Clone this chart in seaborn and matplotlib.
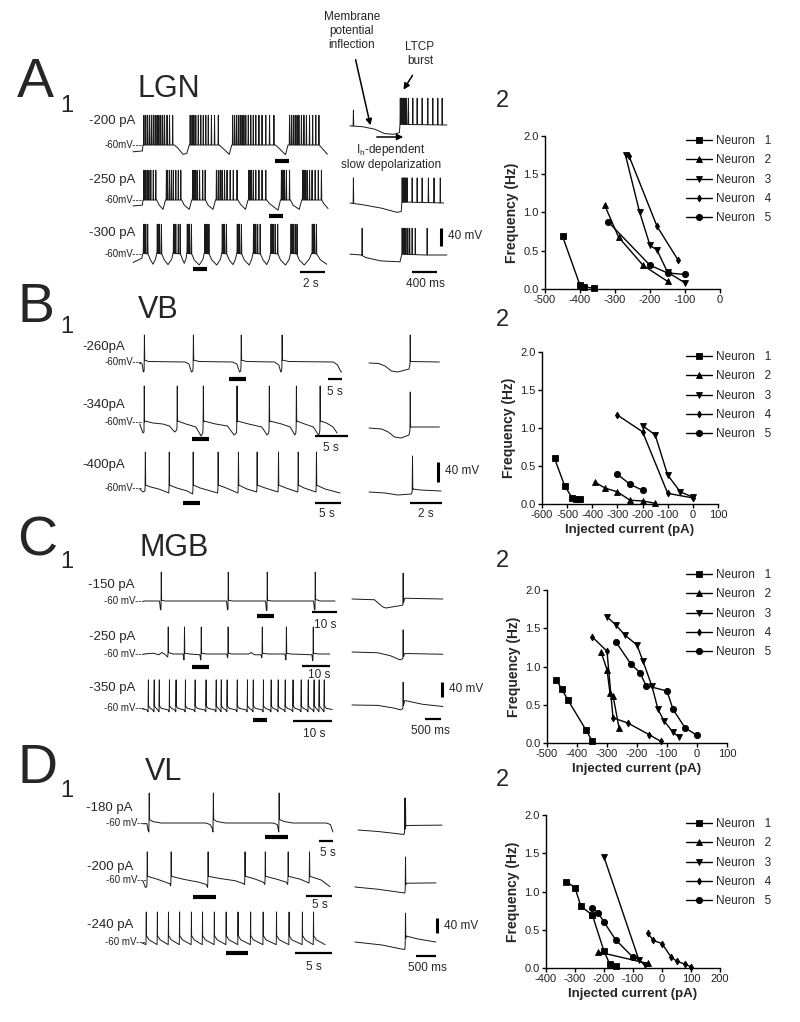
import numpy as np
import pandas as pd
import seaborn as sns
import matplotlib.pyplot as plt
from matplotlib.lines import Line2D
from matplotlib.patches import FancyArrowPatch
from matplotlib.ticker import FormatStrFormatter

# ---------------- F-I curves: injected current (pA) -> burst frequency (Hz)
A2_N1_I = [-450, -400, -390, -360]
A2_N1_F = [0.69, 0.05, 0.03, 0.01]
A2_N2_I = [-330, -290, -220, -150]
A2_N2_F = [1.10, 0.68, 0.31, 0.10]
A2_N3_I = [-270, -230, -200, -180, -150, -100]
A2_N3_F = [1.75, 1.01, 0.57, 0.51, 0.22, 0.08]
A2_N4_I = [-260, -180, -120]
A2_N4_F = [1.74, 0.82, 0.38]
A2_N5_I = [-320, -200, -150, -100]
A2_N5_F = [0.88, 0.31, 0.21, 0.19]

B2_N1_I = [-550, -510, -480, -465, -450]
B2_N1_F = [0.60, 0.24, 0.08, 0.07, 0.06]
B2_N2_I = [-390, -350, -300, -250, -200, -150]
B2_N2_F = [0.29, 0.21, 0.16, 0.05, 0.04, 0.01]
B2_N3_I = [-200, -150, -100, -50, 0]
B2_N3_F = [1.03, 0.91, 0.38, 0.16, 0.09]
B2_N4_I = [-300, -200, -100, 0]
B2_N4_F = [1.17, 0.95, 0.14, 0.08]
B2_N5_I = [-300, -250, -200]
B2_N5_F = [0.39, 0.26, 0.18]

C2_N1_I = [-470, -450, -430, -370, -350]
C2_N1_F = [0.83, 0.70, 0.56, 0.17, 0.03]
C2_N2_I = [-320, -300, -290, -280, -260]
C2_N2_F = [1.19, 0.96, 0.65, 0.62, 0.20]
C2_N3_I = [-300, -270, -240, -200, -180, -150, -130, -110, -80, -60]
C2_N3_F = [1.65, 1.54, 1.41, 1.28, 1.07, 0.74, 0.44, 0.29, 0.14, 0.08]
C2_N4_I = [-350, -300, -280, -230, -160, -120]
C2_N4_F = [1.39, 1.20, 0.33, 0.26, 0.11, 0.02]
C2_N5_I = [-270, -220, -190, -170, -100, -80, -40, 0]
C2_N5_F = [1.32, 1.03, 0.92, 0.75, 0.68, 0.44, 0.20, 0.10]

D2_N1_I = [-330, -300, -280, -240, -200, -180, -160]
D2_N1_F = [1.13, 1.05, 0.81, 0.69, 0.22, 0.05, 0.02]
D2_N2_I = [-220, -50]
D2_N2_F = [0.21, 0.06]
D2_N3_I = [-200, -80, -60]
D2_N3_F = [1.45, 0.11, 0.04]
D2_N4_I = [-50, -30, 0, 30, 50, 80, 100]
D2_N4_F = [0.46, 0.36, 0.32, 0.15, 0.09, 0.05, 0.015]
D2_N5_I = [-240, -220, -200, -160, -100]
D2_N5_F = [0.78, 0.72, 0.60, 0.37, 0.14]

NEURONS = ["Neuron   1", "Neuron   2", "Neuron   3", "Neuron   4", "Neuron   5"]
MARKERS = ["s", "^", "v", "d", "o"]
MSIZE = [4, 4.5, 4.5, 3.5, 4.5]

# ---------------- current-clamp traces: (time s, membrane potential mV) knots + spike times
A1_R1_BASE = [(-0.8, -76), (-0.05, -74), (0.0, -60), (2.5, -60), (2.75, -66), (3.2, -82), (3.5, -80),
              (3.7, -60), (6.1, -60), (6.4, -68), (6.9, -82), (7.1, -60), (10.6, -60), (10.9, -68),
              (11.4, -83), (11.6, -60), (14.1, -60), (14.4, -70), (14.75, -82)]
A1_R1_SPK = [0.05, 0.2, 0.35, 0.5, 0.65, 0.8, 0.95, 1.1, 1.25, 1.4, 1.55, 1.7, 1.9, 2.1, 2.35,
             3.75, 3.9, 4.05, 4.2, 4.4, 4.6, 4.8, 5.0, 5.2, 5.45, 5.7, 6.0,
             7.15, 7.3, 7.45, 7.6, 7.75, 7.9, 8.05, 8.2, 8.4, 8.6, 8.8, 9.0, 9.25, 9.5, 9.8, 10.1, 10.45,
             11.7, 11.85, 12.0, 12.15, 12.3, 12.45, 12.65, 12.85, 13.05, 13.3, 13.55, 13.8, 14.05]
A1_R1_PEAK = 10
A1_R2_BASE = [(-0.8, -74), (-0.05, -72), (0, -60), (1.1, -60), (1.3, -72), (1.6, -82), (1.8, -60),
              (3.1, -60), (3.3, -72), (3.7, -82), (3.9, -60), (5.0, -60), (5.2, -72), (5.6, -82),
              (5.8, -60), (7.6, -60), (7.8, -70), (8.2, -82), (8.4, -60), (9.9, -60), (10.1, -68),
              (10.8, -84), (11.0, -60), (11.8, -60), (12.0, -72), (12.5, -82), (12.7, -60),
              (14.3, -60), (14.5, -70), (14.8, -80)]
A1_R2_SPK = [0.05, 0.15, 0.3, 0.45, 0.6, 0.8, 1.0, 1.85, 1.95, 2.1, 2.25, 2.4, 2.6, 2.8, 3.0,
             3.95, 4.05, 4.15, 4.3, 4.5, 4.75, 4.95, 5.85, 6.0, 6.15, 6.3, 6.5, 6.7, 6.95, 7.2, 7.5,
             8.45, 8.55, 8.65, 8.8, 9.0, 9.25, 9.5, 9.8, 11.05, 11.12, 11.2, 11.3, 11.45, 11.7,
             12.75, 12.85, 12.95, 13.1, 13.3, 13.5, 13.75, 14.0, 14.25]
A1_R2_PEAK = 10
A1_R3_BASE = [(-0.8, -80), (-0.1, -70), (0, -58), (0.4, -60), (0.6, -74), (0.8, -84), (1.0, -72),
              (1.1, -58), (1.5, -60), (1.7, -74), (2.0, -85), (2.3, -72), (2.4, -58), (3.0, -60),
              (3.15, -72), (3.3, -82), (3.45, -70), (3.5, -58), (3.9, -60), (4.1, -74), (4.5, -86),
              (4.8, -72), (4.9, -58), (5.3, -60), (5.5, -74), (5.9, -86), (6.2, -72), (6.3, -58),
              (6.7, -60), (6.9, -74), (7.2, -85), (7.4, -72), (7.5, -58), (7.9, -60), (8.1, -74),
              (8.5, -86), (8.7, -72), (8.8, -58), (9.4, -60), (9.6, -74), (9.9, -85), (10.1, -72),
              (10.2, -58), (10.8, -60), (11.0, -74), (11.4, -86), (11.7, -72), (11.8, -58),
              (12.3, -60), (12.5, -74), (12.9, -86), (13.3, -72), (13.5, -58), (13.9, -60),
              (14.2, -74), (14.7, -84)]
A1_R3_SPK = [0.02, 0.1, 0.2, 0.35, 1.12, 1.2, 1.3, 1.45, 2.42, 2.5, 2.6, 2.8, 2.95, 3.52, 3.6, 3.7, 3.85,
             4.92, 5.0, 5.1, 5.25, 6.32, 6.4, 6.5, 6.65, 7.52, 7.6, 7.7, 7.85, 8.82, 8.9, 9.0, 9.15, 9.35,
             10.22, 10.3, 10.4, 10.55, 10.75, 11.82, 11.9, 12.0, 12.15, 12.3, 13.52, 13.6, 13.7, 13.85]
A1_R3_PEAK = 10

A1_I1_BASE = [(0, -62), (0.2, -64), (0.4, -70), (0.55, -80), (0.7, -82), (0.79, -78), (0.8, -58),
              (1.0, -59), (1.55, -60)]
A1_I1_SPK0 = [0.05]
A1_I1_PEAK0 = -25
A1_I1_SPK = [0.8, 0.815, 0.83, 0.845, 0.86, 0.88, 0.9, 0.93, 1.0, 1.07, 1.15, 1.24, 1.32, 1.4, 1.47]
A1_I1_PEAK = 3
A1_I2_BASE = [(0, -60), (0.2, -64), (0.5, -72), (0.75, -82), (0.82, -80), (0.83, -58), (0.95, -58),
              (1.5, -60)]
A1_I2_SPK0 = [0.05]
A1_I2_PEAK0 = -1
A1_I2_SPK = [0.83, 0.845, 0.86, 0.875, 0.89, 0.91, 0.99, 1.07, 1.15, 1.25, 1.34, 1.44]
A1_I2_PEAK = -1
A1_I3_BASE = [(0, -58), (0.18, -60), (0.25, -66), (0.5, -74), (0.8, -76), (0.83, -58), (1.2, -60),
              (1.55, -60)]
A1_I3_SPK = [0.19, 0.83, 0.85, 0.87, 0.89, 0.92, 0.95, 0.99, 1.04, 1.23]
A1_I3_PEAK = 3

B1_R1_BASE = [(-1.4, -62), (-0.3, -64), (0.1, -80), (0.4, -78), (0.5, -56), (2, -59), (15, -60),
              (16.4, -64), (17.3, -80), (17.8, -78), (18, -56), (20, -59), (32, -60), (33.5, -64),
              (34.5, -80), (34.9, -78), (35.1, -56), (37, -59), (47, -60), (48.5, -66), (49.2, -80),
              (49.5, -78), (49.7, -56), (52, -59), (68, -60), (69.5, -66), (70.5, -78), (71, -80)]
B1_R1_SPK = [0.4, 17.9, 35.0, 49.6]
B1_R1_PEAK = -6
B1_R2_BASE = [(-0.5, -64), (0, -82), (0.15, -80), (0.25, -58), (1.5, -62), (3, -64), (4, -68), (4.8, -80),
              (5.1, -76), (5.25, -58), (6.5, -64), (8, -70), (8.8, -88), (9.05, -82), (9.2, -58), (11, -64),
              (12.8, -68), (13.8, -86), (14.15, -82), (14.3, -58), (16, -64), (18, -70), (18.8, -86),
              (19.05, -82), (19.2, -58), (21, -64), (22.3, -70), (23.0, -86), (23.15, -82), (23.3, -58),
              (24.5, -64), (25.8, -70), (26.6, -86), (26.75, -82), (26.9, -58), (27.8, -62), (28.8, -70),
              (29.4, -82)]
B1_R2_SPK = [0.15, 5.15, 9.1, 14.2, 19.1, 23.2, 26.8]
B1_R2_PEAK = 12
B1_R3_BASE = [(-0.6, -62), (0, -68), (0.35, -66), (0.45, -54), (1.5, -58), (3, -62), (4.5, -68),
              (4.95, -70), (5.05, -54), (6.5, -60), (8.5, -66), (9.55, -72), (9.65, -54), (11, -60),
              (13, -66), (14.35, -70), (14.45, -54), (16, -60), (17.8, -68), (18.25, -70), (18.35, -54),
              (20, -62), (21.85, -68), (21.95, -54), (23.5, -60), (25.95, -68), (26.05, -54), (27.5, -60),
              (29.75, -68), (29.85, -54), (31, -60), (33.25, -68), (33.35, -54), (35, -62), (37.9, -70)]
B1_R3_SPK = [0.4, 5.0, 9.6, 14.4, 18.3, 21.9, 26.0, 29.8, 33.3]
B1_R3_PEAK = 12

B1_I1_BASE = [(0, -60), (0.6, -61), (1.0, -66), (1.4, -76), (1.8, -78), (2.5, -72), (2.6, -57), (4.4, -58)]
B1_I1_SPK = [2.56]
B1_I1_PEAK = -4
B1_I2_BASE = [(0, -60), (0.8, -62), (1.2, -68), (1.6, -78), (2.0, -80), (2.5, -74), (2.6, -58), (4.4, -58)]
B1_I2_SPK = [2.56]
B1_I2_PEAK = 12
B1_I3_BASE = [(0, -60), (1.0, -62), (1.8, -66), (2.65, -64), (2.75, -54), (3.2, -56), (4.5, -58)]
B1_I3_SPK = [2.7]
B1_I3_PEAK = 12

C1_R1_BASE = [(-0.5, -60), (5.8, -60), (6.2, -84), (6.4, -82), (6.6, -58), (8, -60), (32.6, -60),
              (33.0, -84), (33.2, -82), (33.4, -58), (35, -60), (48.2, -60), (48.6, -86), (48.8, -84),
              (49.0, -58), (50.5, -60), (67.4, -60), (67.8, -84), (68, -82), (68.2, -56), (70, -60),
              (76, -60)]
C1_R1_SPK = [6.4, 33.2, 48.8, 68.0]
C1_R1_PEAK = 17
C1_R2_BASE = [(-0.5, -60), (3, -58), (5, -62), (6, -56), (7.0, -60), (8.1, -68), (8.3, -56), (10, -60),
              (13.6, -60), (13.9, -76), (14.1, -58), (16, -60), (19.6, -62), (19.9, -76), (20.1, -58),
              (22, -60), (29.2, -60), (29.5, -70), (29.7, -58), (31, -60), (37, -60), (38, -56),
              (39, -62), (41.4, -62), (41.7, -70), (41.9, -58), (44, -60), (50, -60), (50.3, -76),
              (50.5, -58), (52, -60), (59.6, -62), (59.9, -78), (60.1, -58), (62, -60), (66, -60)]
C1_R2_SPK = [8.2, 14.0, 20.0, 29.6, 41.8, 50.4, 60.0]
C1_R2_PEAK = 12
C1_R3_BASE = [(-0.8, -62), (0, -64), (48, -64)]
C1_R3_SPK = [0.8, 2.3, 3.6, 6.2, 7.9, 10.3, 12.8, 15.6, 18.2, 19.5, 21.0, 23.6, 26.2, 27.7, 30.3,
             32.3, 34.1, 35.9, 37.9, 40.0, 41.8, 43.3, 44.6, 45.9]
C1_R3_PEAK = 15
C1_R3_SHAPE = [(-0.3, -1), (-0.05, -6), (0.08, 10), (0.6, 3)]

C1_I1_BASE = [(0, -60), (0.7, -62), (0.96, -81), (1.06, -84), (1.48, -78), (1.59, -76), (1.65, -58), (2.84, -60)]
C1_I1_SPK = [1.59]
C1_I1_PEAK = 9
C1_I2_BASE = [(0, -60), (0.8, -62), (1.2, -70), (1.5, -81), (1.58, -78), (1.65, -64), (2.84, -66)]
C1_I2_SPK = [1.59]
C1_I2_PEAK = -1
C1_I3_BASE = [(0, -60), (0.8, -61), (1.3, -68), (1.52, -73), (1.58, -70), (1.65, -48), (2.2, -58), (2.84, -64)]
C1_I3_SPK = [1.59]
C1_I3_PEAK = 1

D1_R1_BASE = [(-1.5, -62), (0, -62), (0.4, -80), (0.65, -84), (0.75, -50), (2, -56), (5, -60), (21, -60),
              (22.5, -64), (23.3, -74), (23.55, -84), (23.65, -50), (25, -56), (28, -60), (45, -60),
              (46.5, -64), (46.8, -74), (47.05, -84), (47.15, -50), (49, -56), (52, -60), (64, -60),
              (65.5, -64), (66.4, -84)]
D1_R1_SPK = [0.7, 23.6, 47.1]
D1_R1_PEAK = 20
D1_R2_BASE = [(-0.8, -62), (-0.3, -80), (-0.05, -78), (0.05, -50), (2, -58), (4.4, -70), (4.55, -76),
              (4.65, -50), (7, -58), (10, -66), (11.4, -72), (11.65, -80), (11.75, -50), (14, -56),
              (17, -62), (18.6, -70), (18.75, -72), (18.85, -50), (20.5, -56), (22.4, -66), (22.65, -72),
              (22.75, -50), (25, -58), (26.8, -66), (27.05, -72), (27.15, -50), (29.5, -58), (31.15, -68),
              (31.25, -50), (33.5, -60), (35.2, -78)]
D1_R2_SPK = [0.0, 4.6, 11.7, 18.8, 22.7, 27.1, 31.2]
D1_R2_PEAK = 15
D1_R3_BASE = [(-0.6, -62), (0, -67), (24.2, -67)]
D1_R3_SPK = [0.0, 1.5, 3.0, 4.5, 6.1, 7.6, 9.2, 10.8, 12.4, 14.1, 15.8, 17.6, 19.3, 21.1, 22.6]
D1_R3_PEAK = 20
D1_R3_SHAPE = [(0.06, 24), (0.4, 13)]

D1_I1_BASE = [(0, -60), (0.5, -64), (1.0, -70), (1.15, -72), (1.2, -48), (2.1, -47)]
D1_I1_SPK = [1.165, 1.18]
D1_I1_PEAK = 25
D1_I2_BASE = [(-0.08, -60), (0.5, -66), (1.1, -75), (1.17, -76), (1.2, -50), (1.95, -49)]
D1_I2_SPK = [1.18]
D1_I2_PEAK = 20
D1_I3_BASE = [(-0.08, -60), (0.6, -68), (1.1, -79), (1.17, -80), (1.2, -44), (1.5, -52), (1.95, -60)]
D1_I3_SPK = [1.18]
D1_I3_PEAK = 17

# ---------------- figure
W, H = 800, 1022
sns.set_theme(style="ticks")
plt.rcParams["font.family"] = ["Liberation Sans", "DejaVu Sans"]
plt.rcParams["axes.unicode_minus"] = False
plt.rcParams["mathtext.fontset"] = "custom"
plt.rcParams["mathtext.rm"] = "Liberation Sans"

fig = plt.figure(figsize=(W / 100, H / 100), dpi=100)
fig.patch.set_facecolor("white")


def fx(x):
    return x / W


def fy(y):
    return 1 - y / H


def px_axes(x0, y0, x1, y1):
    return fig.add_axes([fx(x0), fy(y1), (x1 - x0) / W, (y1 - y0) / H])


def ftext(x, y, s, **kw):
    fig.text(fx(x), fy(y), s, **kw)


def fline(xs, ys, lw):
    fig.add_artist(Line2D([fx(v) for v in xs], [fy(v) for v in ys], color="black",
                          lw=lw, solid_capstyle="butt"))


def build_trace(base, groups, eps, shape=()):
    bt = np.array([p[0] for p in base], float)
    bv = np.array([p[1] for p in base], float)
    pre = [p for p in shape if p[0] < 0]
    post = [p for p in shape if p[0] > 0]
    pts, wins = [], []
    for times, peak in groups:
        for ts in times:
            lo = ts + (pre[0][0] if pre else 0)
            hi = ts + (post[-1][0] if post else 2 * eps)
            wins.append((lo, hi))
            for d, dv in pre:
                pts.append((ts + d, np.interp(ts + d, bt, bv) + dv))
            pts.append((ts, np.interp(ts, bt, bv) + (pre[-1][1] if pre else 0)))
            pts.append((ts + eps, peak))
            if post:
                for d, dv in post:
                    pts.append((ts + d, np.interp(ts + d, bt, bv) + dv))
            else:
                pts.append((ts + 2 * eps, np.interp(ts + 2 * eps, bt, bv)))
    for t, v in base:
        if not any(lo - 1e-9 <= t <= hi + 1e-9 for lo, hi in wins):
            pts.append((t, v))
    pts.sort(key=lambda p: p[0])
    return [p[0] for p in pts], [p[1] for p in pts]


def trace_axes(x0, x1, origin, pxs, base_px, s):
    ax = px_axes(x0, base_px - 90 * s, x1, base_px + 40 * s)
    ax.set_xlim((x0 - origin) / pxs, (x1 - origin) / pxs)
    ax.set_ylim(-100, 30)
    ax.axis("off")
    return ax


# base, spike groups, spike shape, origin px, px per s, baseline px, px per mV, x-range
TRACES = [
    (A1_R1_BASE, [(A1_R1_SPK, A1_R1_PEAK)], (), 143, 12.5, 145, 0.425, 125, 335),
    (A1_R2_BASE, [(A1_R2_SPK, A1_R2_PEAK)], (), 143, 12.5, 200, 0.425, 125, 335),
    (A1_R3_BASE, [(A1_R3_SPK, A1_R3_PEAK)], (), 143, 12.5, 254, 0.425, 125, 335),
    (A1_I1_BASE, [(A1_I1_SPK0, A1_I1_PEAK0), (A1_I1_SPK, A1_I1_PEAK)], (), 350, 62.5, 125, 0.425, 345, 450),
    (A1_I2_BASE, [(A1_I2_SPK0, A1_I2_PEAK0), (A1_I2_SPK, A1_I2_PEAK)], (), 350, 62.5, 203, 0.425, 345, 450),
    (A1_I3_BASE, [(A1_I3_SPK, A1_I3_PEAK)], (), 350, 62.5, 255, 0.425, 345, 450),
    (B1_R1_BASE, [(B1_R1_SPK, B1_R1_PEAK)], (), 143, 2.8, 362, 0.5, 135, 350),
    (B1_R2_BASE, [(B1_R2_SPK, B1_R2_PEAK)], (), 143, 6.6, 422, 0.5, 135, 350),
    (B1_R3_BASE, [(B1_R3_SPK, B1_R3_PEAK)], (), 143, 5.2, 488, 0.5, 135, 350),
    (B1_I1_BASE, [(B1_I1_SPK, B1_I1_PEAK)], (), 369, 16, 363, 0.5, 365, 445),
    (B1_I2_BASE, [(B1_I2_SPK, B1_I2_PEAK)], (), 369, 16, 428, 0.5, 365, 445),
    (B1_I3_BASE, [(B1_I3_SPK, B1_I3_PEAK)], (), 369, 16, 492, 0.5, 365, 445),
    (C1_R1_BASE, [(C1_R1_SPK, C1_R1_PEAK)], (), 145, 2.5, 601, 0.375, 140, 340),
    (C1_R2_BASE, [(C1_R2_SPK, C1_R2_PEAK)], (), 145, 2.8, 654, 0.375, 140, 340),
    (C1_R3_BASE, [(C1_R3_SPK, C1_R3_PEAK)], C1_R3_SHAPE, 145, 3.9, 708, 0.375, 140, 340),
    (C1_I1_BASE, [(C1_I1_SPK, C1_I1_PEAK)], (), 352, 32, 599, 0.375, 350, 445),
    (C1_I2_BASE, [(C1_I2_SPK, C1_I2_PEAK)], (), 352, 32, 652, 0.375, 350, 445),
    (C1_I3_BASE, [(C1_I3_SPK, C1_I3_PEAK)], (), 352, 32, 705, 0.375, 350, 445),
    (D1_R1_BASE, [(D1_R1_SPK, D1_R1_PEAK)], (), 147, 2.8, 823, 0.375, 140, 340),
    (D1_R2_BASE, [(D1_R2_SPK, D1_R2_PEAK)], (), 147, 5.2, 880, 0.375, 140, 340),
    (D1_R3_BASE, [(D1_R3_SPK, D1_R3_PEAK)], D1_R3_SHAPE, 146, 7.4, 942, 0.375, 140, 340),
    (D1_I1_BASE, [(D1_I1_SPK, D1_I1_PEAK)], (), 358, 40, 830, 0.375, 350, 445),
    (D1_I2_BASE, [(D1_I2_SPK, D1_I2_PEAK)], (), 358, 40, 887, 0.375, 350, 445),
    (D1_I3_BASE, [(D1_I3_SPK, D1_I3_PEAK)], (), 358, 40, 942, 0.375, 350, 445),
]

for base, groups, shape, origin, pxs, base_px, s, x0, x1 in TRACES:
    ax = trace_axes(x0, x1, origin, pxs, base_px, s)
    t, v = build_trace(base, groups, 0.3 / pxs, shape)
    ax.plot(t, v, color="#1a1a1a", lw=0.7, clip_on=False)

# panel letters, region titles
for letter, y, ysub in [("A", 97, 112), ("B", 322, 333), ("C", 555, 568), ("D", 783, 797)]:
    ftext(17, y, letter, fontsize=40, va="baseline", ha="left")
    ftext(60, ysub, "1", fontsize=17, va="baseline", ha="left")
for title, x, y in [("LGN", 138, 97), ("VB", 138, 318), ("MGB", 140, 556), ("VL", 145, 780)]:
    ftext(x, y, title, fontsize=22, va="baseline", ha="left")

# current step labels and -60 mV markers
STEP_LABELS = [("-200 pA", 135, 121), ("-250 pA", 135, 180), ("-300 pA", 135, 233),
               ("-260pA", 125, 347), ("-340pA", 125, 405), ("-400pA", 125, 465),
               ("-150 pA", 135, 585), ("-250 pA", 135, 637), ("-350 pA", 135, 688),
               ("-180 pA", 133, 808), ("-200 pA", 133, 867), ("-240 pA", 133, 925)]
for s, x, y in STEP_LABELS:
    ftext(x, y, s, fontsize=9.5, ha="right", va="center")
VM_LABELS = [("-60mV---", 143, 145), ("-60mV---", 143, 200), ("-60mV---", 143, 254),
             ("-60mV---", 143, 362), ("-60mV---", 143, 422), ("-60mV---", 143, 488),
             ("-60 mV---", 145, 601), ("-60 mV---", 145, 654), ("-60 mV---", 145, 708),
             ("-60 mV---", 147, 823), ("-60 mV---", 147, 880), ("-60 mV---", 146, 942)]
for s, x, y in VM_LABELS:
    ftext(x, y, s, fontsize=7, ha="right", va="center", color="#222222")

# window markers (thick) and scale bars
for x0, x1, y in [(275, 289, 161), (269, 283, 216), (193, 207, 269),
                  (229, 246, 379), (192, 209, 439), (183, 200, 503),
                  (257, 274, 616), (192, 209, 667), (253, 267, 720),
                  (265, 288, 837), (193, 216, 897), (226, 248, 953)]:
    fline([x0, x1], [y, y], 3.0)
SCALE_BARS = [(300, 325, 272, "2 s", 311, 284), (412, 437, 272, "400 ms", 425, 284),
              (328, 342, 379, "5 s", 335, 392), (315, 348, 436, "5 s", 331, 448),
              (315, 341, 503, "5 s", 327, 514), (410, 442, 503, "2 s", 426, 514),
              (312, 337, 612, "10 s", 325, 625), (302, 330, 666, "10 s", 319, 675),
              (293, 332, 721, "10 s", 314, 734), (425, 441, 719, "500 ms", 430, 731),
              (319, 333, 841, "5 s", 328, 853), (306, 332, 896, "5 s", 320, 905),
              (295, 332, 953, "5 s", 314, 967), (416, 436, 956, "500 ms", 427, 968)]
for x0, x1, y, s, tx, ty in SCALE_BARS:
    fline([x0, x1], [y, y], 1.6)
    ftext(tx, ty, s, fontsize=8.5, ha="center", va="center")
for x, y0, y1, ty in [(441, 228, 246, 236), (438, 462, 482, 471), (442, 682, 697, 689), (437, 918, 933, 926)]:
    fline([x, x], [y0, y1], 2.2)
    ftext(x + 7, ty, "40 mV", fontsize=8.5, ha="left", va="center")

# LGN annotations
ftext(352, 11, "Membrane\npotential\ninflection", fontsize=8.5, ha="center", va="top", linespacing=1.2)
ftext(420, 41, "LTCP\nburst", fontsize=8.5, ha="center", va="top", linespacing=1.2)
ftext(391, 150, "I$_\\mathregular{h}$-dependent", fontsize=8.5, ha="center", va="center")
ftext(391, 165, "slow depolarization", fontsize=8.5, ha="center", va="center")
for (xa, ya), (xb, yb) in [((355, 57), (371, 128)), ((414, 73), (402, 92)), ((374, 137), (406, 137))]:
    fig.add_artist(FancyArrowPatch((fx(xa), fy(ya)), (fx(xb), fy(yb)), transform=fig.transFigure,
                                   arrowstyle="-|>", mutation_scale=9, lw=1.1, color="black"))

# F-I plots
FI_PANELS = [
    ([(A2_N1_I, A2_N1_F), (A2_N2_I, A2_N2_F), (A2_N3_I, A2_N3_F), (A2_N4_I, A2_N4_F), (A2_N5_I, A2_N5_F)],
     (-500, 0), (545, 136, 720, 289), False, 135, 107),
    ([(B2_N1_I, B2_N1_F), (B2_N2_I, B2_N2_F), (B2_N3_I, B2_N3_F), (B2_N4_I, B2_N4_F), (B2_N5_I, B2_N5_F)],
     (-600, 100), (542, 352, 718, 504), True, 351, 326),
    ([(C2_N1_I, C2_N1_F), (C2_N2_I, C2_N2_F), (C2_N3_I, C2_N3_F), (C2_N4_I, C2_N4_F), (C2_N5_I, C2_N5_F)],
     (-500, 100), (547, 590, 727, 743), True, 569, 567),
    ([(D2_N1_I, D2_N1_F), (D2_N2_I, D2_N2_F), (D2_N3_I, D2_N3_F), (D2_N4_I, D2_N4_F), (D2_N5_I, D2_N5_F)],
     (-400, 200), (546, 815, 720, 968), True, 818, 786),
]

for series, (lo, hi), box, has_xlabel, leg_top, two_y in FI_PANELS:
    ax = px_axes(*box)
    for (xs, ys), lab, mk, ms in zip(series, NEURONS, MARKERS, MSIZE):
        sns.lineplot(x=xs, y=ys, ax=ax, color="black", lw=1.0, marker=mk, markersize=ms,
                     markeredgecolor="black", markeredgewidth=0.6, label=lab,
                     sort=False, estimator=None, clip_on=False)
    ax.set_xlim(lo, hi)
    ax.set_xticks(range(lo, hi + 1, 100))
    ax.set_ylim(0, 2.0)
    ax.set_yticks([0, 0.5, 1.0, 1.5, 2.0])
    ax.yaxis.set_major_formatter(FormatStrFormatter("%.1f"))
    sns.despine(ax=ax)
    for sp in ("left", "bottom"):
        ax.spines[sp].set_linewidth(1.0)
        ax.spines[sp].set_color("black")
    ax.tick_params(length=3, width=1, labelsize=8, pad=1.5, colors="black", labelcolor="#222222")
    ax.set_ylabel("Frequency (Hz)", fontsize=10, fontweight="bold", labelpad=3)
    if has_xlabel:
        ax.set_xlabel("Injected current (pA)", fontsize=9.5, fontweight="bold", labelpad=3)
    else:
        ax.set_xlabel("")
    h, l = ax.get_legend_handles_labels()
    ax.legend(h, l, loc="upper left", bbox_to_anchor=(fx(686), fy(leg_top)), bbox_transform=fig.transFigure,
              frameon=False, fontsize=8.5, handlelength=2.2, handletextpad=0.3, labelspacing=0.62,
              borderpad=0, borderaxespad=0)
    ftext(496, two_y, "2", fontsize=17, ha="left", va="baseline")

fig.savefig("out.png", dpi=100)
